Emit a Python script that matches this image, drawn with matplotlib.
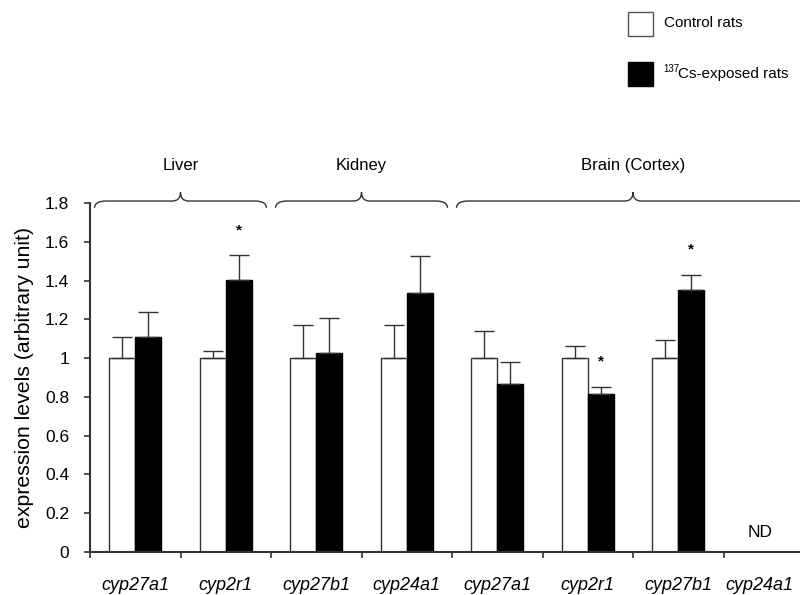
import numpy as np
import matplotlib
matplotlib.use('Agg')
import matplotlib.pyplot as plt
from matplotlib.path import Path
from matplotlib.patches import PathPatch, Rectangle
from matplotlib.ticker import FormatStrFormatter

plt.rcParams['font.family'] = ['Liberation Sans', 'DejaVu Sans']

genes = ['cyp27a1', 'cyp2r1', 'cyp27b1', 'cyp24a1', 'cyp27a1', 'cyp2r1', 'cyp27b1', 'cyp24a1']
control = [1.0, 1.0, 1.0, 1.0, 1.0, 1.0, 1.0, np.nan]
control_err = [0.11, 0.035, 0.17, 0.17, 0.14, 0.06, 0.095, np.nan]
exposed = [1.11, 1.405, 1.025, 1.335, 0.865, 0.815, 1.35, np.nan]
exposed_err = [0.13, 0.125, 0.18, 0.19, 0.115, 0.035, 0.08, np.nan]
significant = [False, True, False, False, False, True, True, False]
tissues = ['Liver', 'Kidney', 'Brain (Cortex)']
tissue_span = [(0, 2), (2, 4), (4, 8)]

edge = '#333333'
fig = plt.figure(figsize=(8, 5.95), dpi=100)
ax = fig.add_axes([0.1125, 0.0723, 0.905, 0.5866])

x = np.arange(len(genes)) + 0.5
w = 0.29
ax.bar(x - w / 2, control, w, color='white', edgecolor=edge, linewidth=1)
ax.bar(x + w / 2, exposed, w, color='black', edgecolor='black', linewidth=1)
ax.errorbar(x - w / 2, control, yerr=[np.zeros(len(x)), control_err], fmt='none',
            ecolor=edge, elinewidth=1, capsize=7, capthick=1)
ax.errorbar(x + w / 2, exposed, yerr=[np.zeros(len(x)), exposed_err], fmt='none',
            ecolor=edge, elinewidth=1, capsize=7, capthick=1)

for xi, v, e, s in zip(x, exposed, exposed_err, significant):
    if s:
        ax.text(xi + w / 2, v + e + 0.13, '*', ha='center', va='center',
                fontsize=11, fontweight='bold')

ax.text(7.4, 0.1, 'ND', ha='center', va='center', fontsize=12.5)

ax.set_xlim(0, 8)
ax.set_ylim(0, 1.8)
ax.set_yticks(np.arange(0, 1.81, 0.2))
ax.yaxis.set_major_formatter(FormatStrFormatter('%g'))
ax.set_xticks(np.arange(0, 9))
ax.set_xticklabels([])
label_x = x.copy()
label_x[-1] = 7.4
ax.set_xticks(label_x, minor=True)
ax.set_xticklabels(genes, minor=True, style='italic', fontsize=13)
ax.tick_params(axis='x', which='minor', length=0, pad=18)
ax.tick_params(axis='x', which='major', length=4, width=1.2, color=edge, direction='out')
ax.tick_params(axis='y', length=4, width=1.2, color=edge, labelsize=12.5, pad=11)
for sp in ['top', 'right']:
    ax.spines[sp].set_visible(False)
for sp in ['left', 'bottom']:
    ax.spines[sp].set_linewidth(1.5)
    ax.spines[sp].set_color(edge)
ax.set_ylabel('expression levels (arbitrary unit)', fontsize=15.3)
ax.yaxis.set_label_coords(-0.078, 0.5)


def brace(x0, x1, yb=1.775, yl=1.81, yt=1.855, r=0.13, rt=0.09):
    xm = (x0 + x1) / 2
    verts = [(x0, yb), (x0, yl), (x0 + r, yl),
             (xm - rt, yl),
             (xm, yl), (xm, yt),
             (xm, yl), (xm + rt, yl),
             (x1 - r, yl),
             (x1, yl), (x1, yb)]
    codes = [Path.MOVETO, Path.CURVE3, Path.CURVE3,
             Path.LINETO,
             Path.CURVE3, Path.CURVE3,
             Path.CURVE3, Path.CURVE3,
             Path.LINETO,
             Path.CURVE3, Path.CURVE3]
    ax.add_patch(PathPatch(Path(verts, codes), fill=False, edgecolor=edge,
                           linewidth=1, clip_on=False))


for name, (a, b) in zip(tissues, tissue_span):
    brace(a + 0.05, b - 0.05)
    ax.text((a + b) / 2, 1.995, name, ha='center', va='center', fontsize=12)

# legend
fig.patches.append(Rectangle((628 / 800, 1 - 36 / 595), 25 / 800, 24 / 595,
                             transform=fig.transFigure, facecolor='white',
                             edgecolor='#555555', linewidth=1))
fig.patches.append(Rectangle((628 / 800, 1 - 86 / 595), 25 / 800, 24 / 595,
                             transform=fig.transFigure, facecolor='black',
                             edgecolor='black', linewidth=1))
fig.text(664 / 800, 1 - 23 / 595, 'Control rats', ha='left', va='center', fontsize=11)
fig.text(663 / 800, 1 - 69 / 595, '137', ha='left', va='center', fontsize=7)
fig.text(678 / 800, 1 - 74 / 595, 'Cs-exposed rats', ha='left', va='center', fontsize=11)

fig.savefig('out.png', dpi=100)
